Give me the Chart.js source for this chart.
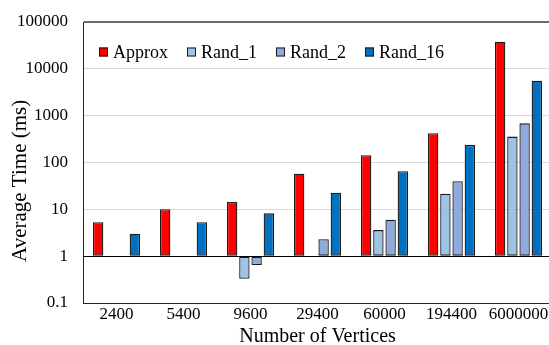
<!DOCTYPE html>
<html>
<head>
<meta charset="utf-8">
<script src="https://cdn.jsdelivr.net/npm/chart.js@4/dist/chart.umd.min.js"></script>
<style>
  html, body { margin: 0; padding: 0; background: #fff; overflow: hidden; }
  #wrap { width: 560px; height: 345px; position: relative; }
</style>
</head>
<body>
<div id="wrap"><canvas id="chart"></canvas></div>
<script>
    // categories and series (ms)
    const vertices = ["2400", "5400", "9600", "29400", "60000", "194400", "6000000"];
    const approx = [5.3, 10.1, 14.3, 57.5, 143, 420, 38000];
    const rand1 = [null, null, 0.33, null, 3.6, 21.6, 357];
    const rand2 = [null, null, 0.65, 2.3, 6.0, 40, 686];
    const rand16 = [3.0, 5.3, 8.2, 22.6, 65, 238, 5550];
    const yTicks = [0.1, 1, 10, 100, 1000, 10000, 100000];

    const serif = "'Liberation Serif', 'Times New Roman', serif";

    function series(label, data, color) {
        return {
            label: label,
            data: data,
            base: 1,
            backgroundColor: color,
            borderColor: "#1a1a1a",
            borderWidth: 1.3,
            borderSkipped: false,
            categoryPercentage: 0.73,
            barPercentage: 0.85
        };
    }

    // legend sits inside the plot area, drawn by hand
    const innerLegend = {
        id: "innerLegend",
        afterDraw(chart) {
            const ctx = chart.ctx;
            let x = 99;
            const y = 52;
            ctx.save();
            ctx.font = "18px " + serif;
            ctx.textBaseline = "middle";
            ctx.textAlign = "left";
            chart.data.datasets.forEach(ds => {
                ctx.fillStyle = ds.backgroundColor;
                ctx.fillRect(x, y - 4.5, 9, 9);
                ctx.strokeStyle = "#1a1a1a";
                ctx.lineWidth = 1;
                ctx.strokeRect(x + 0.5, y - 4, 8, 8);
                ctx.fillStyle = "#000";
                ctx.fillText(ds.label, x + 14, y + 1);
                x += 14 + ctx.measureText(ds.label).width + 19;
            });
            ctx.restore();
        }
    };

    new Chart(document.getElementById("chart"), {
        type: "bar",
        data: {
            labels: vertices,
            datasets: [
                series("Approx", approx, "#FF0000"),
                series("Rand_1", rand1, "#9DC3E6"),
                series("Rand_2", rand2, "#8FAADC"),
                series("Rand_16", rand16, "#0070C0")
            ]
        },
        options: {
            responsive: true,
            maintainAspectRatio: false,
            animation: false,
            layout: { padding: { top: 22, right: 8, bottom: 0, left: 0 } },
            plugins: {
                legend: { display: false },
                tooltip: { enabled: false }
            },
            scales: {
                x: {
                    grid: { display: false, drawTicks: false },
                    border: { color: "#262626", width: 1 },
                    ticks: { color: "#000", font: { family: serif, size: 17 }, padding: 1, maxRotation: 0 },
                    title: {
                        display: true,
                        text: "Number of Vertices",
                        color: "#000",
                        font: { family: serif, size: 20 },
                        padding: { top: 0, bottom: -4 }
                    },
                    afterFit(scale) { scale.height = 42; }
                },
                y: {
                    type: "logarithmic",
                    min: 0.1,
                    max: 100000,
                    afterBuildTicks(scale) {
                        scale.ticks = yTicks.map(v => ({ value: v }));
                    },
                    grid: {
                        drawTicks: false,
                        color: ctx => {
                            const v = ctx.tick && ctx.tick.value;
                            if (v === 1) return "#000";
                            if (v === 100000) return "#6b6b6b";
                            return "#d9d9d9";
                        },
                        lineWidth: ctx => (ctx.tick && ctx.tick.value === 100000) ? 2 : 1
                    },
                    border: { color: "#262626", width: 1 },
                    ticks: {
                        color: "#000",
                        font: { family: serif, size: 17 },
                        padding: 15,
                        callback: v => String(v)
                    },
                    title: {
                        display: true,
                        text: "Average Time (ms)" + "\u00a0".repeat(7),
                        color: "#000",
                        font: { family: serif, size: 21 },
                        padding: { top: 8, bottom: 0 }
                    },
                    afterFit(scale) {
                        scale.width = 83;
                        scale.paddingTop = 0;
                        scale.paddingBottom = 0;
                    }
                }
            }
        },
        plugins: [innerLegend]
    });
</script>
</body>
</html>
